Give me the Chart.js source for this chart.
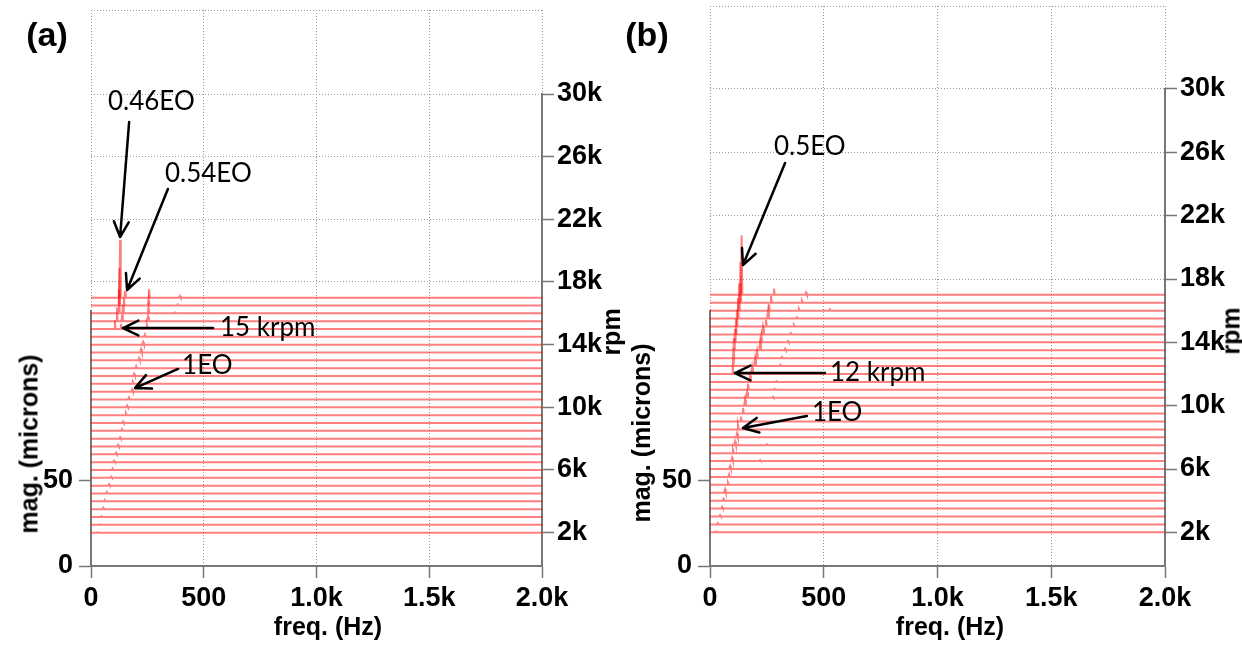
<!DOCTYPE html>
<html>
<head>
<meta charset="utf-8">
<script src="https://cdn.jsdelivr.net/npm/chart.js@4"></script>
<style>
  html, body { margin: 0; padding: 0; background: #fff; }
  #wrap { position: relative; width: 1242px; height: 648px; overflow: hidden; }
  .panel { position: absolute; top: 0; width: 621px; height: 648px; }
  .lbl { position: absolute; font-family: 'Liberation Sans', Arial, sans-serif; font-weight: bold; color: #000; white-space: nowrap; line-height: 1; }
  .ctr { transform: translate(-50%, -50%); }
  .rot { transform: translate(-50%, -50%) rotate(-90deg); }
</style>
</head>
<body>
<div id="wrap">
  <div class="panel" style="left:0"><canvas id="chartA" width="621" height="648"></canvas></div>
  <div class="panel" style="left:621px"><canvas id="chartB" width="621" height="648"></canvas></div>

  <div class="lbl ctr" style="left:47px;top:34px;font-size:34px">(a)</div>
  <div class="lbl ctr" style="left:647px;top:34px;font-size:34px">(b)</div>
  <div class="lbl rot" style="left:29px;top:444px;font-size:25px">mag. (microns)</div>
  <div class="lbl rot" style="left:641px;top:433px;font-size:25px">mag. (microns)</div>
  <div class="lbl rot" style="left:611px;top:332px;font-size:25px">rpm</div>
  <div class="lbl rot" style="left:1231px;top:331px;font-size:25px">rpm</div>
  <div class="lbl ctr" style="left:328px;top:626px;font-size:25px">freq. (Hz)</div>
  <div class="lbl ctr" style="left:950px;top:626px;font-size:25px">freq. (Hz)</div>
</div>

<script>
// axis ticks
const freqTicks = [0, 500, 1000, 1500, 2000];
const freqTickLabels = ['0', '500', '1.0k', '1.5k', '2.0k'];
const rpmTicks = [2000, 6000, 10000, 14000, 18000, 22000, 26000, 30000];
const rpmTickLabels = ['2k', '6k', '10k', '14k', '18k', '22k', '26k', '30k'];
const magTicks = [0, 50];

// one trace per rpm step
const rpmSteps = [2000, 2500, 3000, 3500, 4000, 4500, 5000, 5500, 6000, 6500, 7000,
                  7500, 8000, 8500, 9000, 9500, 10000, 10500, 11000, 11500, 12000,
                  12500, 13000, 13500, 14000, 14500, 15000, 15500, 16000, 16500, 17000];

// (a) 1EO peak per trace: freq (Hz) and magnitude (microns)
const a1eoFreq = [30, 38, 47, 55, 62, 70, 80, 89, 96, 102, 111, 120, 129, 137, 142, 155,
                  160, 168, 182, 186, 191, 200, 213, 222, 231, 239, 248, 253, 255, 256, 257];
const a1eoMag = [0.3, 0.4, 0.5, 0.9, 0.6, 0.9, 0.8, 0.7, 0.9, 0.8, 0.9, 1.0, 0.9, 1.0, 0.9, 1.2,
                 1.0, 1.1, 1.3, 1.1, 1.3, 1.2, 1.4, 2.0, 1.5, 1.4, 2.2, 2.8, 3.5, 4.2, 5.0];
// (a) sub-synchronous peaks from 15 krpm
const aSubRpm = [15000, 15500, 16000, 16500, 17000];
const a046Freq = [106, 115, 124, 126, 129];
const a046Mag = [5, 8, 14, 22, 34];
const a054Freq = [133, 138, 142, 146, 151];
const a054Mag = [3, 4, 5, 4.5, 4];
const aHarmRpm = [16000, 16500, 17000];
const aHarmFreq = [372, 385, 395];
const aHarmMag = [0.5, 0.7, 1.0];

// (b) 1EO peak per trace
const b1eoFreq = [28, 35, 44, 53, 60, 66, 79, 84, 88, 97, 101, 110, 119, 123, 136, 145,
                  154, 163, 167, 176, 185, 198, 207, 220, 226, 233, 246, 255, 259, 268, 281];
const b1eoMag = [0.5, 0.6, 0.8, 1.0, 1.1, 2.0, 1.3, 1.5, 1.7, 1.9, 2.0, 2.2, 2.4, 2.6, 2.8, 3.4,
                 3.6, 3.2, 3.6, 3.7, 4.0, 4.2, 4.0, 4.4, 4.0, 4.4, 4.0, 4.2, 3.8, 4.0, 3.6];
// (b) 0.5EO from 12 krpm
const bSubRpm = [12000, 12500, 13000, 13500, 14000, 14500, 15000, 15500, 16000, 16500, 17000];
const b05Freq = [100, 102, 104, 106, 110, 114, 118, 123, 128, 134, 139];
const b05Mag = [5, 5, 6, 7, 8, 9, 10, 12, 16, 24, 35];
// (b) higher orders
const b15Rpm = [10500, 11000, 11500, 12000, 12500, 13000, 13500, 14000, 14500, 15000, 15500, 16000, 16500, 17000];
const b15Freq = [277, 283, 292, 300, 310, 316, 330, 343, 355, 369, 382, 391, 404, 422];
const b15Mag = [0.6, 0.5, 0.5, 0.6, 0.8, 0.7, 0.9, 0.8, 0.8, 0.9, 0.8, 1.1, 1.2, 1.4];
const b2Rpm = [6500, 7500, 16000];
const b2Freq = [220, 250, 527];
const b2Mag = [0.6, 0.6, 0.8];

// annotations: text anchor, arrow start, arrow tip as [freq, rpm]
const notesA = [
    { text: '0.46EO', at: [75, 29490], from: [169, 28210], to: [129, 20870] },
    { text: '0.54EO', at: [328, 24890], from: [341, 23940], to: [160, 17490] },
    { text: '15 krpm', at: [572, 15060], from: [541, 15060], to: [142, 15060] },
    { text: '1EO', at: [404, 12640], from: [386, 12450], to: [195, 11230] }
];
const notesB = [
    { text: '0.5EO', at: [281, 26340], from: [330, 25330], to: [145, 18880] },
    { text: '12 krpm', at: [527, 12060], from: [505, 12060], to: [110, 12060] },
    { text: '1EO', at: [448, 9540], from: [426, 9350], to: [145, 8590] }
];

const TRACE_COLOR = 'rgba(255, 0, 0, 0.5)';
const GRID_COLOR = '#999';
const GRID_DASH = [1, 2];
const AXIS_COLOR = '#777';
const TICK_FONT = { family: "'Liberation Sans', Arial, sans-serif", size: 27, weight: 'bold' };

function peakList(rpm, families) {
    const list = [];
    families.forEach(fam => {
        const i = fam.rpm.indexOf(rpm);
        if (i >= 0 && fam.mag[i] > 0) list.push({ f: fam.freq[i], m: fam.mag[i], hw: fam.hw });
    });
    return list.sort((a, b) => a.f - b.f);
}

function tracePoints(rpm, peaks, k) {
    const pts = [{ x: 0, y: rpm }];
    peaks.forEach(p => {
        pts.push({ x: p.f - p.hw, y: rpm });
        pts.push({ x: p.f, y: rpm + p.m * k });
        pts.push({ x: p.f + p.hw, y: rpm });
    });
    pts.push({ x: 2000, y: rpm });
    return pts;
}

function arrowPlugin(notes) {
    return {
        id: 'arrows',
        afterDraw(chart) {
            const ctx = chart.ctx;
            const xs = chart.scales.x, ys = chart.scales.rpm;
            ctx.save();
            ctx.strokeStyle = '#000';
            ctx.fillStyle = '#000';
            ctx.lineWidth = 2.5;
            ctx.lineCap = 'round';
            ctx.font = '26px Lato';
            ctx.textAlign = 'left';
            ctx.textBaseline = 'middle';
            notes.forEach(n => {
                const x1 = xs.getPixelForValue(n.from[0]), y1 = ys.getPixelForValue(n.from[1]);
                const x2 = xs.getPixelForValue(n.to[0]), y2 = ys.getPixelForValue(n.to[1]);
                const ang = Math.atan2(y2 - y1, x2 - x1);
                ctx.beginPath();
                ctx.moveTo(x1, y1);
                ctx.lineTo(x2, y2);
                [-1, 1].forEach(s => {
                    const a = ang + Math.PI + s * 0.45;
                    ctx.moveTo(x2, y2);
                    ctx.lineTo(x2 + 17 * Math.cos(a), y2 + 17 * Math.sin(a));
                });
                ctx.stroke();
                ctx.fillText(n.text, xs.getPixelForValue(n.at[0]), ys.getPixelForValue(n.at[1]));
            });
            ctx.restore();
        }
    };
}

function makeChart(id, geo, families, notes) {
    const k = (geo.rpmMax - geo.rpmMin) / geo.magMax; // rpm units per micron
    const datasets = rpmSteps.map(r => ({
        data: tracePoints(r, peakList(r, families), k),
        borderColor: TRACE_COLOR,
        borderWidth: 2,
        pointRadius: 0,
        tension: 0,
        fill: false,
        xAxisID: 'x',
        yAxisID: 'rpm'
    }));

    const fitLeft = s => { s.width = geo.left; s.paddingTop = 0; s.paddingBottom = 0; };
    const fitRight = s => { s.width = geo.right; s.paddingTop = 0; s.paddingBottom = 0; };

    return new Chart(document.getElementById(id), {
        type: 'line',
        data: { datasets },
        options: {
            responsive: false,
            animation: false,
            events: [],
            layout: { padding: { top: geo.top, left: 0, right: 0, bottom: 0 } },
            plugins: { legend: { display: false }, tooltip: { enabled: false } },
            scales: {
                x: {
                    type: 'linear', axis: 'x', position: 'bottom', min: 0, max: 2000,
                    afterBuildTicks: s => { s.ticks = freqTicks.map(v => ({ value: v })); },
                    afterFit: s => { s.height = 648 - 566; s.paddingLeft = 0; s.paddingRight = 0; },
                    ticks: { callback: (v, i) => freqTickLabels[i], font: TICK_FONT, color: '#000', padding: 4, maxRotation: 0, autoSkip: false },
                    grid: { color: GRID_COLOR, lineWidth: 1, tickLength: 12, tickColor: AXIS_COLOR, tickWidth: 1.5, tickBorderDash: [] },
                    border: { display: true, color: AXIS_COLOR, width: 2, dash: GRID_DASH }
                },
                magFront: {
                    type: 'linear', axis: 'y', position: 'left', stack: 'L', stackWeight: geo.magSplit, weight: 1,
                    min: 0, max: geo.magSplit,
                    afterBuildTicks: s => { s.ticks = magTicks.map(v => ({ value: v })); },
                    afterFit: fitLeft,
                    ticks: { font: TICK_FONT, color: '#000', padding: 6 },
                    grid: { drawOnChartArea: false, tickLength: 12, tickColor: AXIS_COLOR, tickWidth: 1.5 },
                    border: { display: true, color: AXIS_COLOR, width: 2 }
                },
                magBack: {
                    type: 'linear', axis: 'y', position: 'left', stack: 'L', stackWeight: geo.magMax - geo.magSplit, weight: 2,
                    min: geo.magSplit, max: geo.magMax,
                    afterFit: fitLeft,
                    ticks: { display: false },
                    grid: { display: false },
                    border: { display: false }
                },
                rpmTop: {
                    type: 'linear', axis: 'y', position: 'right', stack: 'R', stackWeight: geo.rpmMax - 30000, weight: 1,
                    min: 30000, max: geo.rpmMax,
                    afterBuildTicks: s => { s.ticks = [{ value: geo.rpmMax }]; },
                    afterFit: fitRight,
                    ticks: { display: false },
                    grid: { color: GRID_COLOR, drawTicks: false },
                    border: { display: false, dash: GRID_DASH }
                },
                rpm: {
                    type: 'linear', axis: 'y', position: 'right', stack: 'R', stackWeight: 30000 - geo.rpmMin, weight: 2,
                    min: geo.rpmMin, max: 30000,
                    afterBuildTicks: s => { s.ticks = rpmTicks.map(v => ({ value: v })); },
                    afterFit: fitRight,
                    ticks: { callback: (v, i) => rpmTickLabels[i], font: TICK_FONT, color: '#000', padding: 3 },
                    grid: {
                        color: c => (c.tick && c.tick.value >= 18000 ? GRID_COLOR : 'rgba(0,0,0,0)'),
                        tickLength: 12, tickColor: AXIS_COLOR, tickWidth: 1.5, tickBorderDash: []
                    },
                    border: { display: true, color: AXIS_COLOR, width: 2, dash: GRID_DASH }
                }
            }
        },
        plugins: [arrowPlugin(notes)]
    });
}

makeChart('chartA',
    { rpmMin: -128, rpmMax: 35362, magMax: 327, magSplit: 150, top: 10, left: 91, right: 79 },
    [
        { rpm: rpmSteps, freq: a1eoFreq, mag: a1eoMag, hw: 4 },
        { rpm: aSubRpm, freq: a046Freq, mag: a046Mag, hw: 3 },
        { rpm: aSubRpm, freq: a054Freq, mag: a054Mag, hw: 3 },
        { rpm: aHarmRpm, freq: aHarmFreq, mag: aHarmMag, hw: 4 }
    ],
    notesA);

makeChart('chartB',
    { rpmMin: -126, rpmMax: 35242, magMax: 329, magSplit: 150, top: 6, left: 89, right: 77 },
    [
        { rpm: rpmSteps, freq: b1eoFreq, mag: b1eoMag, hw: 4 },
        { rpm: bSubRpm, freq: b05Freq, mag: b05Mag, hw: 3 },
        { rpm: b15Rpm, freq: b15Freq, mag: b15Mag, hw: 4 },
        { rpm: b2Rpm, freq: b2Freq, mag: b2Mag, hw: 4 }
    ],
    notesB);
</script>
</body>
</html>
